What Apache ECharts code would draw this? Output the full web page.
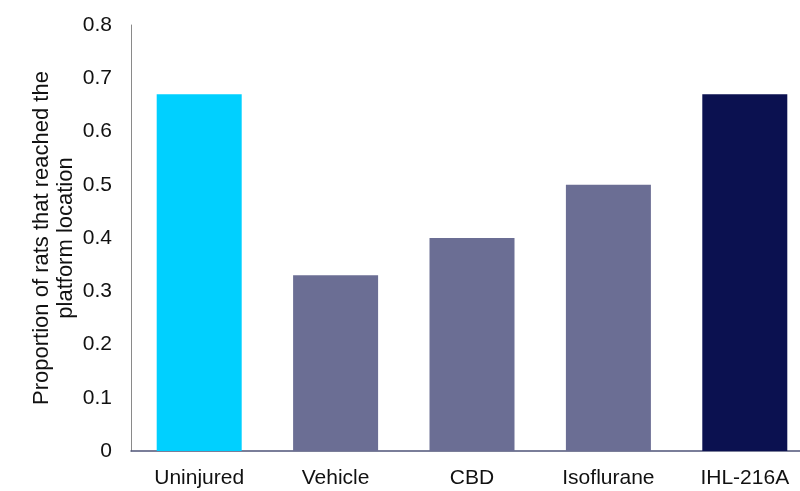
<!DOCTYPE html>
<html><head><meta charset="utf-8">
<script src="https://cdn.jsdelivr.net/npm/echarts@6/dist/echarts.min.js"></script>
<style>html,body{margin:0;padding:0;background:#fff;overflow:hidden;width:800px;height:491px}#c{width:813px;height:491px}</style>
</head><body><div id="c"></div>
<script>
var categories = ['Uninjured', 'Vehicle', 'CBD', 'Isoflurane', 'IHL-216A'];
var values = [0.67, 0.33, 0.40, 0.50, 0.67];
var barColors = ['#00D0FF', '#6B6E94', '#6B6E94', '#6B6E94', '#0B1150'];
var yTicks = [0, 0.1, 0.2, 0.3, 0.4, 0.5, 0.6, 0.7, 0.8];

var chart = echarts.init(document.getElementById('c'));
chart.setOption({
  animation: false,
  grid: { left: 131, right: 0, top: 25, bottom: 40, containLabel: false },
  xAxis: {
    type: 'category', data: categories,
    axisLine: { show: true, lineStyle: { color: '#4f5478', width: 1.5 } },
    axisTick: { show: false },
    axisLabel: { color: '#111', fontFamily: 'Liberation Sans, Arial', fontSize: 21, margin: 17 }
  },
  yAxis: {
    type: 'value', min: 0, max: 0.8, interval: 0.1,
    name: 'Proportion of rats that reached the\nplatform location',
    nameLocation: 'middle', nameGap: 53, nameRotate: 90, nameMoveOverlap: false,
    nameTextStyle: { color: '#111', fontFamily: 'Liberation Sans, Arial', fontSize: 22, lineHeight: 24 },
    axisLine: { show: true, lineStyle: { color: '#8a8a8a', width: 1 } },
    axisTick: { show: false },
    splitLine: { show: false },
    axisLabel: { color: '#111', fontFamily: 'Liberation Sans, Arial', fontSize: 21, margin: 19,
      formatter: function (v) { var t = yTicks.find(function (x) { return Math.abs(x - v) < 1e-9; }); return t === 0 ? '0' : String(+v.toFixed(1)); } }
  },
  series: [{
    type: 'bar',
    barWidth: 85,
    data: values.map(function (v, i) { return { value: v, itemStyle: { color: barColors[i] } }; })
  }]
});
</script></body></html>
